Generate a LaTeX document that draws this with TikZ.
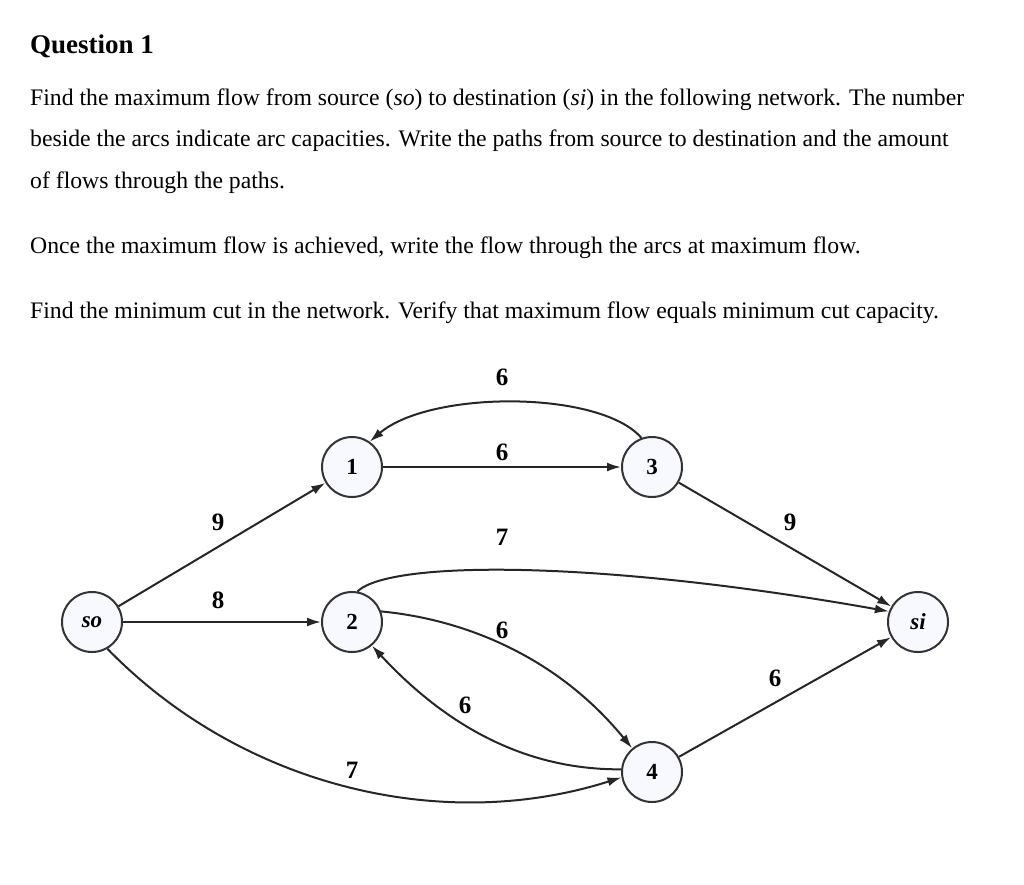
\documentclass[tikz,border=0pt]{standalone}
\usepackage{fontspec}
\setmainfont{Liberation Serif}
\usetikzlibrary{arrows.meta}
\begin{document}
\begin{tikzpicture}[x=1pt,y=-1pt,
  nd/.style={circle,draw=black!80,line width=2pt,fill=gray!12!blue!3,minimum size=60pt,inner sep=0pt,font=\fontsize{23}{23}\selectfont\bfseries},
  ed/.style={line width=2pt,draw=black!85,-{Latex[length=14pt,width=9pt]}},
  lb/.style={font=\fontsize{25}{25}\selectfont\bfseries},
  tx/.style={anchor=base west,inner sep=0pt,font=\fontsize{23.7}{23.7}\selectfont}]
\useasboundingbox (0,0) rectangle (1024,884);
\node[tx,font=\fontsize{27}{27}\selectfont\bfseries] (q) at (30,53) {Question 1};
\node[tx] (t1) at (30,105) {Find the maximum flow from source (\textit{so}) to destination (\textit{si}) in the following network. The number};
\node[tx] (t2) at (30,146) {beside the arcs indicate arc capacities. Write the paths from source to destination and the amount};
\node[tx] (t3) at (30,188) {of flows through the paths.};
\node[tx] (t4) at (30,253) {Once the maximum flow is achieved, write the flow through the arcs at maximum flow.};
\node[tx] (t5) at (30,318) {Find the minimum cut in the network. Verify that maximum flow equals minimum cut capacity.};
\node[nd] (so) at (92,622) {\textit{so}};
\node[nd] (n1) at (352,467) {1};
\node[nd] (n3) at (652,467) {3};
\node[nd] (n2) at (352,622) {2};
\node[nd] (si) at (918,622) {\textit{si}};
\node[nd] (n4) at (652,772) {4};
\draw[ed] (n3.110) .. controls (600,390) and (430,390) .. (n1.55);
\draw[ed] (n1) -- (n3);
\draw[ed] (so) -- (n1);
\draw[ed] (so) -- (n2);
\draw[ed] (n2.80) .. controls (390,560) and (600,560) .. (si.160);
\draw[ed] (n3) -- (si);
\draw[ed] (n2.20) .. controls (470,620) and (560,660) .. (n4.130);
\draw[ed] (n4.175) .. controls (530,770) and (450,730) .. (n2.310);
\draw[ed] (so.300) .. controls (240,785) and (440,835) .. (n4.190);
\draw[ed] (n4) -- (si);
\node[lb] (l1) at (502,377) {6};
\node[lb] (l2) at (502,452) {6};
\node[lb] (l3) at (218,522) {9};
\node[lb] (l4) at (218,600) {8};
\node[lb] (l5) at (502,537) {7};
\node[lb] (l6) at (790,522) {9};
\node[lb] (l7) at (502,630) {6};
\node[lb] (l8) at (465,705) {6};
\node[lb] (l9) at (352,770) {7};
\node[lb] (l10) at (775,678) {6};
\end{tikzpicture}
\end{document}
